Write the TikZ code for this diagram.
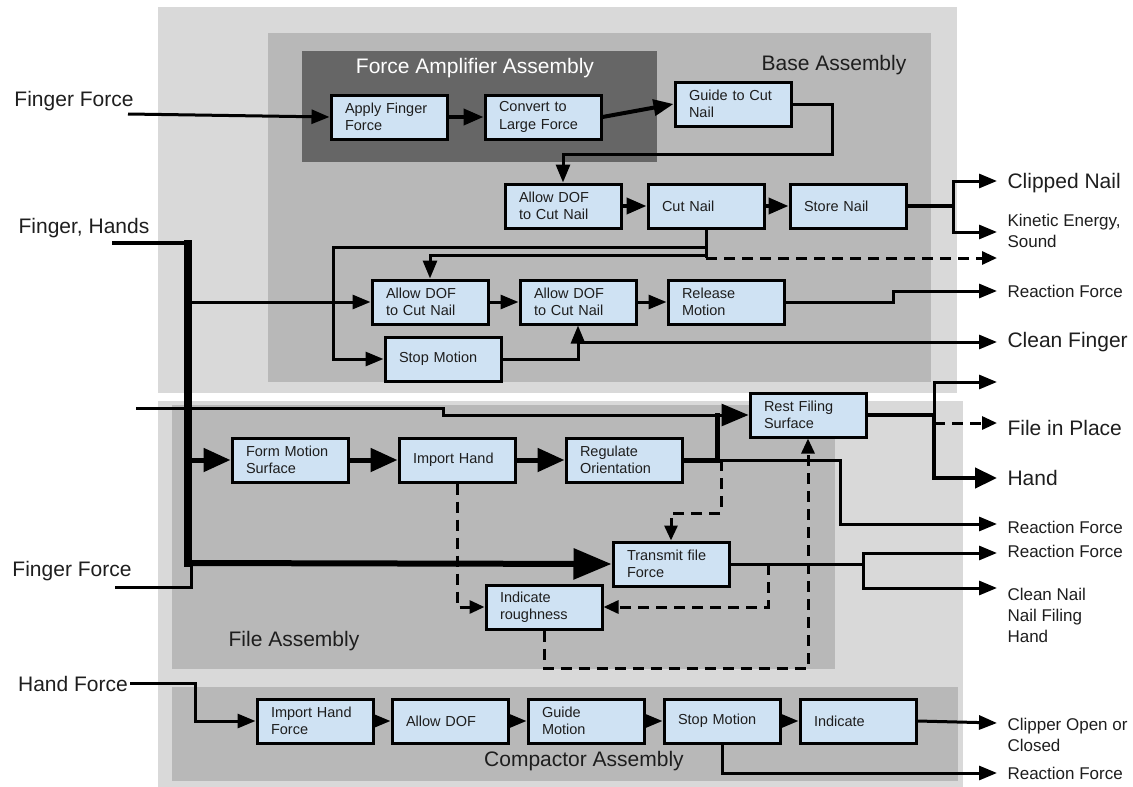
\documentclass[tikz,border=0pt]{standalone}
\usepackage{fontspec}
\setmainfont{Liberation Sans}
\usetikzlibrary{arrows.meta}
\definecolor{outergray}{RGB}{217,217,217}
\definecolor{basegray}{RGB}{184,184,184}
\definecolor{ampgray}{RGB}{102,102,102}
\definecolor{boxblue}{RGB}{207,226,243}
\definecolor{ink}{RGB}{30,30,30}

\begin{document}
\begin{tikzpicture}[x=1pt,y=-1pt]
    \tikzstyle{block}=[draw, line width=3pt, fill=boxblue, minimum width=116pt, minimum height=44pt, text width=88pt, inner xsep=14pt, align=left, text=ink, font=\fontsize{14.5}{17.5}\selectfont]
    \tikzstyle{flow}=[line width=3pt, -{Triangle[length=18pt,width=14pt]}]
    \tikzstyle{heavy}=[line width=4pt, -{Triangle[length=20pt,width=16pt]}]
    \tikzstyle{fat}=[line width=5pt, -{Triangle[length=27pt,width=23pt]}]
    \tikzstyle{dflow}=[line width=3pt, dash pattern=on 11pt off 7pt, -{Triangle[length=15pt,width=13pt]}]
    \tikzstyle{big}=[text=ink, font=\fontsize{21}{25}\selectfont]
    \tikzstyle{small}=[text=ink, align=left, font=\fontsize{17}{21}\selectfont]

    \useasboundingbox (0,0) rectangle (1133,787);

    % assemblies
    \fill[outergray] (158,7) rectangle (957,393);
    \fill[outergray] (158,401) rectangle (963,787);
    \fill[basegray] (268,33) rectangle (931,382);
    \fill[ampgray] (302,51) rectangle (657,162);
    \fill[basegray] (172,405) rectangle (835,669);
    \fill[basegray] (172,687) rectangle (958,781);

    \node[big, text=white] (amplbl) at (475,68) {Force Amplifier Assembly};
    \node[big] (baselbl) at (834,65) {Base Assembly};
    \node[big] (filelbl) at (294,641) {File Assembly};
    \node[big] (complbl) at (584,761) {Compactor Assembly};

    % functions
    \node[block] (apply) at (389,117) {Apply Finger\\Force};
    \node[block] (convert) at (543,117) {Convert to\\Large Force};
    \node[block] (guide) at (733,104) {Guide to Cut\\Nail};
    \node[block] (allowa) at (563,206) {Allow DOF\\to Cut Nail};
    \node[block] (cut) at (706,206) {Cut Nail};
    \node[block] (store) at (848,206) {Store Nail};
    \node[block] (allowb) at (430,302) {Allow DOF\\to Cut Nail};
    \node[block] (allowc) at (578,302) {Allow DOF\\to Cut Nail};
    \node[block] (release) at (726,302) {Release\\Motion};
    \node[block] (stopa) at (443,359) {Stop Motion};

    \node[block] (form) at (290,460) {Form Motion\\Surface};
    \node[block] (import) at (457,460) {Import Hand};
    \node[block] (regulate) at (624,460) {Regulate\\Orientation};
    \node[block] (rest) at (808,415) {Rest Filing\\Surface};
    \node[block] (transmit) at (671,564) {Transmit file\\Force};
    \node[block] (indicate) at (544,607) {Indicate\\roughness};

    \node[block] (importf) at (315,721) {Import Hand\\Force};
    \node[block] (allowd) at (450,721) {Allow DOF};
    \node[block] (guidem) at (586,721) {Guide\\Motion};
    \node[block] (stopb) at (722,721) {Stop Motion};
    \node[block] (ind) at (858,721) {Indicate};

    % inputs and outputs
    \node[big] (fingera) at (74,101) {Finger Force};
    \node[big] (hands) at (84,228) {Finger, Hands};
    \node[big] (fingerb) at (72,571) {Finger Force};
    \node[big] (handf) at (73,684) {Hand Force};

    \node[big, anchor=west] (clipped) at (1004,183) {Clipped Nail};
    \node[small, anchor=west] (kinetic) at (1004,231) {Kinetic Energy,\\Sound};
    \node[small, anchor=west] (reacta) at (1004,291) {Reaction Force};
    \node[big, anchor=west] (clean) at (1004,342) {Clean Finger};
    \node[big, anchor=west] (place) at (1004,428) {File in Place};
    \node[big, anchor=west] (hand) at (1004,478) {Hand};
    \node[small, anchor=west] (reactb) at (1004,527) {Reaction Force};
    \node[small, anchor=west] (reactc) at (1004,551) {Reaction Force};
    \node[small, anchor=north west] (cleannail) at (1004,585) {Clean Nail\\Nail Filing\\Hand};
    \node[small, anchor=north west] (clipper) at (1004,715) {Clipper Open or\\Closed};
    \node[small, anchor=west] (reactd) at (1004,773) {Reaction Force};

    \coordinate (ina) at (128,114);
    \coordinate (inhands) at (112,243);
    \coordinate (inb) at (115,587);
    \coordinate (infile) at (136,408);
    \coordinate (inhand) at (130,683);
    \coordinate (outclip) at (997,181);
    \coordinate (outkin) at (997,232);
    \coordinate (outdash) at (997,258);
    \coordinate (outreacta) at (997,291);
    \coordinate (outclean) at (997,342);
    \coordinate (outup) at (997,382);
    \coordinate (outplace) at (997,423);
    \coordinate (outhand) at (997,478);
    \coordinate (outreactb) at (997,524);
    \coordinate (outreactc) at (997,553);
    \coordinate (outnail) at (997,588);
    \coordinate (outclipper) at (997,723);
    \coordinate (outreactd) at (997,773);

    % force amplifier and base
    \draw[flow] (ina) -- (apply.west);
    \draw[heavy] (apply) -- (convert);
    \draw[heavy] (convert.east) -- (guide.west);
    \draw[flow] (guide.east) -| (832,154) -| (allowa.north);
    \draw[heavy] (allowa) -- (cut);
    \draw[heavy] (cut) -- (store);
    \draw[line width=4.5pt] (store.east) -- (953,206);
    \draw[flow] (953,206) |- (outclip);
    \draw[flow] (953,206) |- (outkin);
    \draw[flow] (cut.south) |- (333,247) |- (stopa.west);
    \draw[flow] (cut.south) |- (430,255) -- (allowb.north);
    \draw[line width=3pt] (cut.south) -- (706,258);
    \draw[dflow] (706,258) -- (outdash);
    \draw[flow] (allowb) -- (allowc);
    \draw[flow] (allowc) -- (release);
    \draw[flow] (release.east) -- (893,302) |- (outreacta);
    \draw[flow] (stopa.east) -| (allowc.south);
    \draw[flow] (578,342) -- (outclean);

    % finger and hand bus
    \draw[line width=4.5pt] (inhands) -- (188,243);
    \draw[line width=7.5pt, line join=round] (188,240) -- (188,567);
    \draw[line width=3pt] (inb) -| (191,563);
    \draw[line width=6pt, -{Triangle[length=38pt,width=30pt]}] (188,563) -- (transmit.west);
    \draw[flow] (188,302) -- (allowb.west);
    \draw[fat] (188,460) -- (form.west);

    % file
    \draw[fat] (form) -- (import);
    \draw[fat] (import) -- (regulate);
    \draw[line width=3pt, -{Triangle[length=27pt,width=22pt]}] (infile) -- (443,408) -- (443,415) -- (rest.west);
    \draw[line width=5pt] (regulate.east) -- (717,460) -- (717,413);
    \draw[flow] (717,460) -| (840,524) -- (outreactb);
    \draw[dflow] (721,460) |- (671,513) -- (transmit.north);
    \draw[dflow] (import.south) |- (indicate.west);
    \draw[dflow] (indicate.south) |- (808,668) -- (rest.south);
    \draw[line width=3pt] (transmit.east) -- (863,564);
    \draw[flow] (863,564) |- (outreactc);
    \draw[flow] (863,564) |- (outnail);
    \draw[dflow] (768,564) |- (indicate.east);
    \draw[line width=4.5pt] (rest.east) -- (934,415);
    \draw[flow] (934,417) |- (outup);
    \draw[dflow] (934,423) -- (outplace);
    \draw[line width=4.5pt, -{Triangle[length=22pt,width=20pt]}] (934,413) |- (outhand);

    % compactor
    \draw[flow] (inhand) -- (195,683) |- (importf.west);
    \draw[flow] (importf) -- (allowd);
    \draw[flow] (allowd) -- (guidem);
    \draw[flow] (guidem) -- (stopb);
    \draw[flow] (stopb) -- (ind);
    \draw[flow] (ind.east) -- (outclipper);
    \draw[flow] (stopb.south) |- (outreactd);
\end{tikzpicture}
\end{document}
